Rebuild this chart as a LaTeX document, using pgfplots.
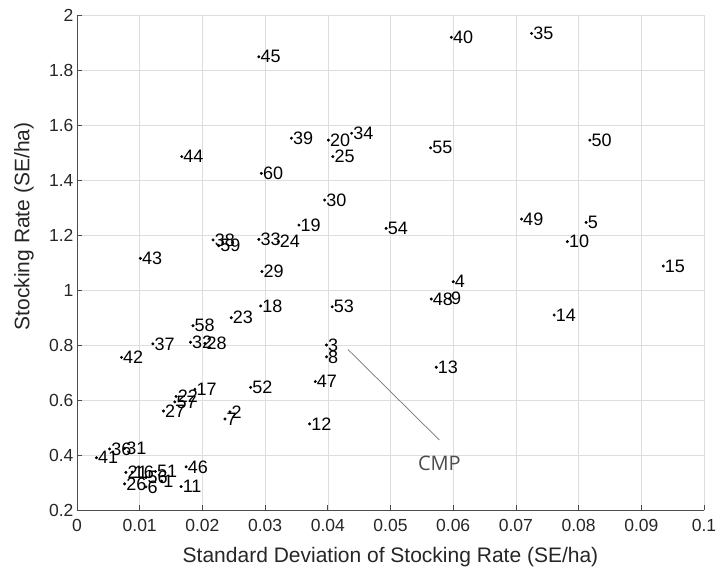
\documentclass[border=0pt]{standalone}
\usepackage{fontspec}
\setmainfont{Liberation Sans}
\newfontfamily\cmpfont{Open Sans}
\usepackage{pgfplots}
\pgfplotsset{compat=1.18}
\usepackage{pgfplotstable}

\pgfplotstableread{
x y lab
0.0135 0.305 1
0.0244 0.557 2
0.0398 0.800 3
0.0600 1.030 4
0.0812 1.246 5
0.0110 0.284 6
0.0236 0.531 7
0.0398 0.757 8
0.0594 0.968 9
0.0782 1.176 10
0.0166 0.285 11
0.0371 0.513 12
0.0573 0.719 13
0.0761 0.909 14
0.0935 1.087 15
0.0088 0.338 16
0.0188 0.639 17
0.0293 0.942 18
0.0354 1.236 19
0.0401 1.545 20
0.0078 0.337 21
0.0158 0.613 22
0.0246 0.899 23
0.0321 1.176 24
0.0408 1.485 25
0.0076 0.295 26
0.0138 0.560 27
0.0204 0.806 28
0.0295 1.067 29
0.0395 1.327 30
0.0076 0.424 31
0.0181 0.810 32
0.0290 1.184 33
0.0438 1.570 34
0.0725 1.933 35
0.0052 0.422 36
0.0121 0.804 37
0.0217 1.182 38
0.0342 1.552 39
0.0597 1.919 40
0.0031 0.390 41
0.0071 0.755 42
0.0101 1.115 43
0.0167 1.485 44
0.0290 1.848 45
0.0174 0.357 46
0.0380 0.667 47
0.0565 0.967 48
0.0709 1.258 49
0.0818 1.545 50
0.0125 0.340 51
0.0277 0.646 52
0.0407 0.939 53
0.0493 1.224 54
0.0564 1.517 55
0.0110 0.318 56
0.0156 0.593 57
0.0185 0.870 58
0.0226 1.161 59
0.0294 1.424 60
}\pts

\begin{document}
\begin{tikzpicture}
\begin{axis}[
  scale only axis, width=627pt, height=495pt,
  xmin=0, xmax=0.1, ymin=0.2, ymax=2,
  xtick={0,0.01,0.02,0.03,0.04,0.05,0.06,0.07,0.08,0.09,0.1},
  xticklabels={0,0.01,0.02,0.03,0.04,0.05,0.06,0.07,0.08,0.09,0.1},
  ytick={0.2,0.4,0.6,0.8,1,1.2,1.4,1.6,1.8,2},
  yticklabels={0.2,0.4,0.6,0.8,1,1.2,1.4,1.6,1.8,2},
  grid=major, grid style={color=black!13, line width=0.6pt},
  axis x line*=bottom, axis y line*=left,
  axis line style={color=black!70, line width=0.8pt, -},
  tick align=inside, major tick length=5pt,
  tick style={color=black!70, line width=0.8pt},
  ticklabel style={font=\fontsize{17.5}{18}\selectfont, text=black!85},
  xticklabel style={yshift=-6pt},
  yticklabel style={xshift=0pt},
  every axis x label/.style={at={(axis description cs:0.5,0)}, yshift=-47pt, anchor=center,
    font=\fontsize{21}{22}\selectfont, text=black!85},
  every axis y label/.style={at={(axis description cs:0,0.573)}, xshift=-53pt, rotate=90, anchor=center,
    font=\fontsize{21}{22}\selectfont, text=black!85},
  xlabel={Standard Deviation of Stocking Rate (SE/ha)},
  ylabel={Stocking Rate (SE/ha)},
  clip=false,
]
\addplot[only marks, mark=*, mark size=1.3pt, black,
  nodes near coords, point meta=explicit symbolic,
  every node near coord/.style={anchor=west, inner sep=0pt, xshift=1.5pt,
    font=\fontsize{18}{18}\selectfont, text=black}]
  table[x=x, y=y, meta=lab]{\pts};
\draw[color=black!55, line width=0.7pt] (axis cs:0.0432,0.784) -- (axis cs:0.0578,0.4545);
\node[text=black!70, font=\cmpfont\fontsize{20}{20}\selectfont] at (axis cs:0.0578,0.371) {CMP};
\coordinate (sw) at (rel axis cs:0,0);
\coordinate (ne) at (rel axis cs:1,1);
\end{axis}
\pgfresetboundingbox
\path[use as bounding box] ([xshift=-77pt,yshift=-64pt]sw) rectangle ([xshift=14pt,yshift=15pt]ne);
\end{tikzpicture}
\end{document}
